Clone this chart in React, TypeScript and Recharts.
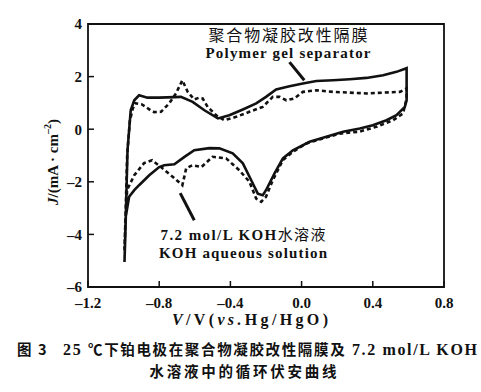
import React from "react";
import {
  LineChart,
  Line,
  XAxis,
  YAxis,
  ReferenceArea,
  ReferenceLine,
} from "recharts";

// Polymer gel separator (solid) - anodic sweep then cathodic sweep
const gelV = [
  -0.995, -0.99, -0.978, -0.96, -0.94, -0.913, -0.866, -0.8, -0.715, -0.678,
  -0.612, -0.546, -0.47, -0.406, -0.33, -0.255, -0.2, -0.143, -0.068, 0.007,
  0.083, 0.176, 0.27, 0.364, 0.458, 0.533, 0.59, 0.59, 0.58, 0.533, 0.477,
  0.4, 0.327, 0.233, 0.139, 0.045, -0.049, -0.105, -0.152, -0.2, -0.218,
  -0.246, -0.283, -0.33, -0.387, -0.462, -0.518, -0.603, -0.66, -0.715,
  -0.772, -0.8, -0.856, -0.913, -0.94, -0.969, -0.988, -0.995,
];
const gelJ = [
  -5.05, -3.96, -0.8, 0.72, 1.1, 1.29, 1.2, 1.2, 1.22, 1.23, 1.04, 0.72, 0.41,
  0.53, 0.75, 0.98, 1.23, 1.51, 1.63, 1.74, 1.83, 1.86, 1.9, 1.95, 2.05, 2.18,
  2.32, 1.1, 0.85, 0.53, 0.34, 0.15, 0.03, -0.1, -0.29, -0.48, -0.8, -1.11,
  -1.68, -2.32, -2.51, -2.45, -1.94, -1.3, -0.92, -0.73, -0.72, -0.8, -1.06,
  -1.33, -1.37, -1.44, -1.75, -2.13, -2.32, -2.57, -3.33, -5.05,
];

// 7.2 mol/L KOH aqueous solution (dashed)
const kohV = [
  -0.995, -0.99, -0.98, -0.965, -0.95, -0.935, -0.9, -0.875, -0.845, -0.828,
  -0.79, -0.744, -0.706, -0.67, -0.64, -0.603, -0.575, -0.556, -0.528, -0.48,
  -0.434, -0.368, -0.293, -0.218, -0.162, -0.124, -0.086, -0.04, 0.007, 0.083,
  0.176, 0.364, 0.552, 0.59, 0.59, 0.57, 0.514, 0.42, 0.327, 0.214, 0.12,
  0.026, -0.049, -0.105, -0.162, -0.2, -0.227, -0.255, -0.293, -0.35, -0.424,
  -0.5, -0.563, -0.614, -0.648, -0.67, -0.715, -0.79, -0.84, -0.885, -0.94,
  -0.98, -0.99, -0.995,
];
const kohJ = [
  -4.6, -3.5, -1.0, 0.3, 0.75, 0.99, 0.95, 0.85, 0.7, 0.65, 0.66, 0.98, 1.36,
  1.86, 1.42, 1.13, 1.2, 1.17, 0.85, 0.53, 0.34, 0.47, 0.66, 0.85, 1.23, 1.23,
  1.1, 1.17, 1.42, 1.48, 1.42, 1.36, 1.42, 1.55, 1.17, 0.6, 0.34, 0.09, -0.09,
  -0.17, -0.35, -0.54, -0.86, -1.17, -1.94, -2.57, -2.76, -2.64, -2.0, -1.56,
  -1.11, -1.05, -1.44, -1.37, -1.48, -2.13, -1.86, -1.44, -1.18, -1.29, -1.75,
  -2.3, -3.5, -4.6,
];

const xTicks = [-1.2, -0.8, -0.4, 0, 0.4, 0.8];
const yTicks = [-6, -4, -2, 0, 2, 4];

const gelData = gelV.map((v, i) => ({ v, j: gelJ[i] }));
const kohData = kohV.map((v, i) => ({ v, j: kohJ[i] }));

const serif = "'Liberation Serif', 'Times New Roman', serif";
const cjk = "'Noto Sans CJK SC', sans-serif";
const ink = "#111";

const tickStyle = {
  fontFamily: serif,
  fontWeight: 700,
  fontSize: 15,
  fill: ink,
};

const fmtX = (v: number) =>
  v < 0 ? "\u2013" + Math.abs(v).toFixed(1) : v.toFixed(1);
const fmtY = (v: number) => (v < 0 ? "\u2013" + Math.abs(v) : String(v));

const App = () => {
  return (
    <div style={{ position: "absolute", left: 0, top: 0, background: "#fff" }}>
      <LineChart
        width={481}
        height={392}
        margin={{ top: 24, right: 37, bottom: 0, left: 0 }}
      >
        <XAxis
          type="number"
          dataKey="v"
          domain={[-1.2, 0.8]}
          ticks={xTicks}
          allowDataOverflow
          height={105}
          axisLine={false}
          tickSize={-6}
          tickMargin={16}
          tickLine={{ stroke: ink, strokeWidth: 1.5 }}
          tick={tickStyle}
          tickFormatter={fmtX}
        />
        <YAxis
          type="number"
          domain={[-6, 4]}
          ticks={yTicks}
          allowDataOverflow
          width={88}
          axisLine={false}
          tickSize={-6}
          tickMargin={12}
          tickLine={{ stroke: ink, strokeWidth: 1.5 }}
          tick={tickStyle}
          tickFormatter={fmtY}
        />
        <ReferenceArea
          x1={-1.2}
          x2={0.8}
          y1={-6}
          y2={4}
          fill="none"
          stroke={ink}
          strokeWidth={1.8}
        />
        <Line
          data={kohData}
          dataKey="j"
          type="linear"
          stroke={ink}
          strokeWidth={2.6}
          strokeDasharray="4 3"
          dot={false}
          isAnimationActive={false}
        />
        <Line
          data={gelData}
          dataKey="j"
          type="linear"
          stroke={ink}
          strokeWidth={2.6}
          dot={false}
          isAnimationActive={false}
        />
        <ReferenceLine
          segment={[
            { x: -0.068, y: 2.55 },
            { x: 0.015, y: 1.86 },
          ]}
          stroke={ink}
          strokeWidth={3}
        />
        <ReferenceLine
          segment={[
            { x: -0.603, y: -3.46 },
            { x: -0.682, y: -2.43 },
          ]}
          stroke={ink}
          strokeWidth={3}
        />

        {/* annotations */}
        <text x={288} y={41} textAnchor="middle" fontFamily={cjk} fontSize={16}
          fill={ink} textLength={159} lengthAdjust="spacing">
          聚合物凝胶改性隔膜
        </text>
        <text x={288} y={58} textAnchor="middle" fontFamily={serif}
          fontWeight={700} fontSize={15} fill={ink} textLength={165}
          lengthAdjust="spacing">
          Polymer gel separator
        </text>
        <text x={243} y={240} textAnchor="middle" fontFamily={serif}
          fontWeight={700} fontSize={15} fill={ink} textLength={165}
          lengthAdjust="spacing">
          7.2 mol/L KOH<tspan fontFamily={cjk} fontWeight={400}>水溶液</tspan>
        </text>
        <text x={243} y={258} textAnchor="middle" fontFamily={serif}
          fontWeight={700} fontSize={15} fill={ink} textLength={168}
          lengthAdjust="spacing">
          KOH aqueous solution
        </text>

        {/* axis titles */}
        <text x={250} y={325} textAnchor="middle" fontFamily={serif}
          fontWeight={700} fontSize={16} fill={ink} textLength={156}
          lengthAdjust="spacing">
          <tspan fontStyle="italic">V</tspan>/V(<tspan fontStyle="italic">vs.</tspan>Hg/HgO)
        </text>
        <text x={53} y={162} transform="rotate(-90 53 162)" dy={5}
          textAnchor="middle" fontFamily={serif} fontWeight={700} fontSize={15}
          fill={ink}>
          <tspan fontStyle="italic">J</tspan>/(mA · cm
          <tspan fontSize={10} dy={-7}>–2</tspan>
          <tspan dy={7}>)</tspan>
        </text>

        {/* caption */}
        <text x={17} y={355} fontFamily={cjk} fontWeight={700} fontSize={14.5}
          fill={ink} textLength={460} lengthAdjust="spacing">
          {"图\u00a03\u00a0\u00a0\u00a0"}
          <tspan fontFamily={serif} fontSize={16}>{"25\u00a0"}</tspan>
          ℃下铂电极在聚合物凝胶改性隔膜及
          <tspan fontFamily={serif} fontSize={16}>{"\u00a07.2 mol/L KOH"}</tspan>
        </text>
        <text x={243} y={377} textAnchor="middle" fontFamily={cjk}
          fontWeight={700} fontSize={14.5} fill={ink} textLength={187}
          lengthAdjust="spacing">
          水溶液中的循环伏安曲线
        </text>
      </LineChart>
    </div>
  );
};

export default App;
